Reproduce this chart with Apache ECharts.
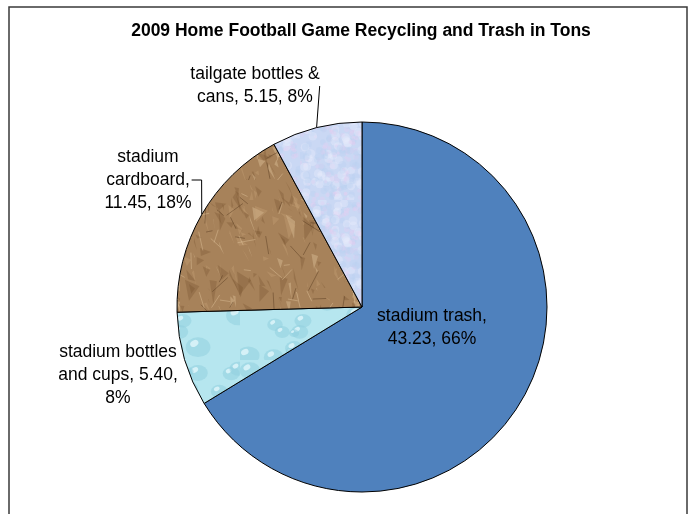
<!DOCTYPE html>
<html>
<head>
<meta charset="utf-8">
<script src="https://cdn.jsdelivr.net/npm/echarts@6/dist/echarts.min.js"></script>
<style>
html,body{margin:0;padding:0;background:#fff;}
#chart{width:691px;height:514px;}
</style>
</head>
<body>
<div id="chart"></div>
<script>
const titleText = '2009 Home Football Game Recycling and Trash in Tons';
const categories = ['stadium trash', 'stadium bottles and cups', 'stadium cardboard', 'tailgate bottles & cans'];
const values = [43.23, 5.40, 11.45, 5.15];
const percents = ['66%', '8%', '18%', '8%'];
const labelTexts = [
  'stadium trash,\n43.23, 66%',
  'stadium bottles\nand cups, 5.40,\n8%',
  'stadium\ncardboard,\n11.45, 18%',
  'tailgate bottles &\ncans, 5.15, 8%'
];

// deterministic hash noise for textures (styling only)
function hash(i, j, s) {
  const v = Math.sin(i * 127.1 + j * 311.7 + s * 74.7) * 43758.5453;
  return v - Math.floor(v);
}

function makeCardboard() {
  const W = 180;
  const c = document.createElement('canvas');
  c.width = W; c.height = W;
  const g = c.getContext('2d');
  g.fillStyle = '#a7825a';
  g.fillRect(0, 0, W, W);
  for (let k = 0; k < 260; k++) {
    const x = hash(k, 1, 3) * W, y = hash(k, 2, 5) * W;
    const s = 6 + hash(k, 3, 7) * 16;
    const t = hash(k, 4, 9);
    g.fillStyle = t < 0.45 ? 'rgba(110,75,40,0.28)' : (t < 0.85 ? 'rgba(205,170,125,0.30)' : 'rgba(235,210,170,0.35)');
    g.beginPath();
    g.moveTo(x, y);
    g.lineTo(x + s * (hash(k, 5, 1) - 0.2), y + s * hash(k, 6, 2) * 0.6);
    g.lineTo(x + s * hash(k, 7, 3) * 0.5, y + s * (hash(k, 8, 4) + 0.3));
    g.closePath();
    g.fill();
  }
  for (let k = 0; k < 90; k++) {
    const x = hash(k, 9, 3) * W, y = hash(k, 10, 5) * W;
    const len = 6 + hash(k, 11, 7) * 16, ang = hash(k, 12, 9) * Math.PI * 2;
    g.strokeStyle = k % 2 ? 'rgba(85,55,28,0.45)' : 'rgba(225,195,155,0.45)';
    g.lineWidth = 1;
    g.beginPath();
    g.moveTo(x, y);
    g.lineTo(x + Math.cos(ang) * len, y + Math.sin(ang) * len);
    g.stroke();
  }
  return c;
}

function makeDroplets() {
  const c = document.createElement('canvas');
  c.width = 120; c.height = 120;
  const g = c.getContext('2d');
  g.fillStyle = '#b6e6ef';
  g.fillRect(0, 0, 120, 120);
  for (let k = 0; k < 26; k++) {
    const x = hash(k, 11, 3) * 120, y = hash(k, 12, 5) * 120;
    const r = 4 + hash(k, 13, 7) * 9;
    g.fillStyle = 'rgba(145,208,222,0.55)';
    g.beginPath(); g.ellipse(x, y, r, r * 0.8, 0, 0, Math.PI * 2); g.fill();
    g.fillStyle = 'rgba(230,248,252,0.75)';
    g.beginPath(); g.ellipse(x - r * 0.3, y - r * 0.3, r * 0.35, r * 0.25, -0.5, 0, Math.PI * 2); g.fill();
  }
  return c;
}

function makeSpeckle() {
  const c = document.createElement('canvas');
  c.width = 100; c.height = 100;
  const g = c.getContext('2d');
  g.fillStyle = '#cad8f4';
  g.fillRect(0, 0, 100, 100);
  for (let k = 0; k < 400; k++) {
    const x = hash(k, 21, 3) * 100, y = hash(k, 22, 5) * 100;
    const t = hash(k, 23, 7);
    g.fillStyle = t < 0.4 ? 'rgba(228,205,240,0.35)' : (t < 0.75 ? 'rgba(185,210,240,0.35)' : 'rgba(235,238,252,0.35)');
    g.beginPath();
    g.arc(x, y, 1.5 + t * 3, 0, Math.PI * 2);
    g.fill();
  }
  return c;
}

const fills = [
  '#4f81bd',
  { image: makeDroplets(), repeat: 'repeat' },
  { image: makeCardboard(), repeat: 'repeat' },
  { image: makeSpeckle(), repeat: 'repeat' }
];

const labelSpots = [
  { x: 432, y: 328, line: false },
  { x: 118, y: 375, line: false },
  { x: 148, y: 180, line: true },
  { x: 255, y: 86, line: true }
];

const chart = echarts.init(document.getElementById('chart'), null, { renderer: 'canvas' });
chart.setOption({
  animation: false,
  backgroundColor: '#fff',
  title: {
    text: titleText,
    left: 356,
    textAlign: 'center',
    top: 17,
    textStyle: { fontFamily: 'Liberation Sans, Arial', fontSize: 17.5, fontWeight: 'bold', color: '#000' }
  },
  graphic: [{
    type: 'rect',
    shape: { x: 9, y: 7, width: 678, height: 540 },
    style: { fill: 'none', stroke: '#3a3a3a', lineWidth: 1.5 },
    silent: true
  }],
  series: [{
    type: 'pie',
    center: [362, 307],
    radius: 185,
    startAngle: 90,
    clockwise: true,
    avoidLabelOverlap: false,
    itemStyle: { borderColor: '#000', borderWidth: 1 },
    label: {
      show: true,
      position: 'outside',
      fontFamily: 'Liberation Sans, Arial',
      fontSize: 17.5,
      lineHeight: 23,
      color: '#000',
      align: 'center'
    },
    labelLine: { show: true, length: 10, length2: 10, lineStyle: { color: '#000', width: 1 } },
    labelLayout: function (p) {
      const s = labelSpots[p.dataIndex];
      return { x: s.x, y: s.y, align: 'center', verticalAlign: 'middle' };
    },
    data: categories.map((name, i) => ({
      name: name,
      value: values[i],
      itemStyle: { color: fills[i] },
      label: { formatter: labelTexts[i] },
      labelLine: { show: labelSpots[i].line }
    }))
  }]
});
</script>
</body>
</html>
